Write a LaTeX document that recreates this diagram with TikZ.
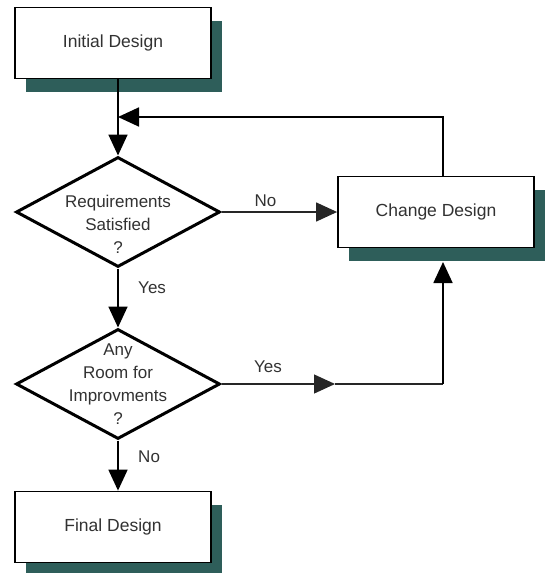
\documentclass[tikz,border=0pt]{standalone}
\usepackage{fontspec}
\setmainfont{Liberation Sans}
\usetikzlibrary{positioning,shapes.geometric,shadows,arrows.meta}
\definecolor{shadowteal}{RGB}{46,94,90}
\definecolor{textgray}{RGB}{50,50,50}
\tikzset{
  box/.style={draw,line width=1.8pt,fill=white,minimum width=196pt,minimum height=71pt,
    drop shadow={shadow xshift=11pt,shadow yshift=-13pt,fill=shadowteal,opacity=1},
    text=textgray,font=\fontsize{17.5}{23}\selectfont},
  decision/.style={draw,diamond,line width=3pt,fill=white,inner sep=0pt,
    minimum width=204pt,minimum height=110pt},
  qtext/.style={align=center,inner sep=0pt,text=textgray,font=\fontsize{17}{23}\selectfont},
  lbl/.style={text=textgray,font=\fontsize{17}{19}\selectfont},
  flow/.style={line width=1.8pt,-{Triangle[length=21pt,width=19pt]}},
  branch/.style={line width=1.3pt,black!85}
}
\begin{document}
\begin{tikzpicture}[x=1pt,y=-1pt]
        \useasboundingbox (0,0) rectangle (545,573);
        \node[box] at (113,43) (init) {Initial Design};
        \node[decision] at (118,212) (req) {};
        \node[qtext] at ([yshift=-12pt]req) (reqtext) {Requirements\\Satisfied\\?};
        \node[box] at (436,212) (chg) {Change Design};
        \node[decision] at (118,384) (imp) {};
        \node[qtext] at (imp) (imptext) {Any\\Room for\\Improvments\\?};
        \node[box] at (113,527) (final) {Final Design};
        \coordinate (merge) at (118,117);
        \coordinate (chgtop) at ([xshift=7pt]chg.north);
        \coordinate (yesmid) at (335,384);
        \coordinate (yescorner) at (443,384);
        \coordinate (chgbottom) at (443,262);

        \draw[flow] (req.north |- init.south) -- (req.north);
        \draw[flow] (chgtop) |- (merge);
        \draw[flow,branch] (req.east) -- node[lbl,pos=.38,above=1pt]{No} (chg.west);
        \draw[flow] (req.south) -- node[lbl,pos=.33,right=16pt]{Yes} (imp.north);
        \draw[flow,branch] (imp.east) -- node[lbl,pos=.41,above=7pt]{Yes} (yesmid);
        \draw[branch] (yesmid) -- (yescorner);
        \draw[flow] (yescorner) -- (chgbottom);
        \draw[flow] (imp.south) -- node[lbl,pos=.33,right=16pt]{No} (final.north -| imp.south);
      \end{tikzpicture}
\end{document}
